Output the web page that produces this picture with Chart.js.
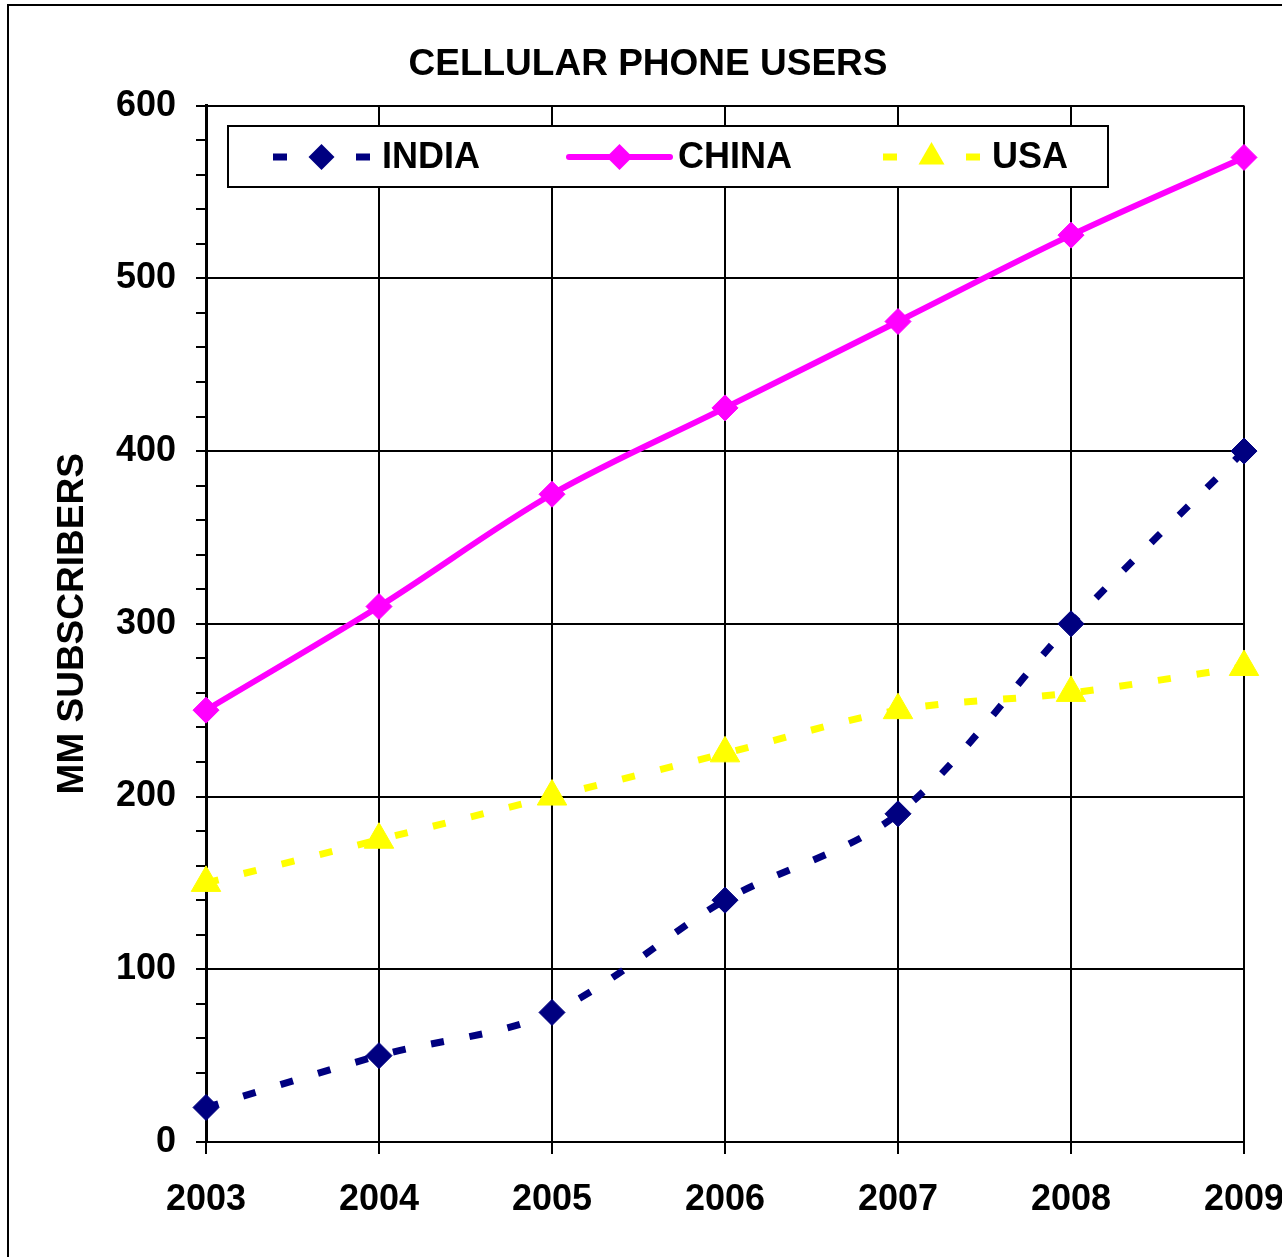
<!DOCTYPE html>
<html>
<head>
<meta charset="utf-8">
<script src="https://cdn.jsdelivr.net/npm/chart.js@4/dist/chart.umd.min.js"></script>
<style>
  html, body { margin: 0; padding: 0; background: #fff; }
  #wrap { width: 1282px; height: 1257px; position: relative; }
</style>
</head>
<body>
<div id="wrap"><canvas id="c" width="1282" height="1257"></canvas></div>
<script>
const years = ['2003', '2004', '2005', '2006', '2007', '2008', '2009'];
const india = [20, 50, 75, 140, 190, 300, 400];
const china = [250, 310, 375, 425, 475, 525, 570];
const usa = [150, 175, 200, 225, 250, 260, 275];
const seriesNames = ['INDIA', 'CHINA', 'USA'];
const chartTitle = 'CELLULAR PHONE USERS';
const yTitle = 'MM SUBSCRIBERS';

const FONT = '"Liberation Sans", Arial, Helvetica, sans-serif';

const framePlugin = {
  id: 'frame',
  beforeDraw(chart) {
    const ctx = chart.ctx;
    ctx.save();
    ctx.fillStyle = '#fff';
    ctx.fillRect(0, 0, chart.width, chart.height);
    ctx.strokeStyle = '#000';
    ctx.lineWidth = 2;
    ctx.strokeRect(8, 5, 3000, 3000);
    ctx.restore();
  }
};

function drawMarker(ctx, style, x, y, r, color) {
  ctx.fillStyle = color;
  ctx.beginPath();
  if (style === 'triangle') {
    ctx.moveTo(x, y - r);
    ctx.lineTo(x + r * Math.sin(Math.PI / 3), y + r / 2);
    ctx.lineTo(x - r * Math.sin(Math.PI / 3), y + r / 2);
  } else {
    ctx.moveTo(x, y - r);
    ctx.lineTo(x + r, y);
    ctx.lineTo(x, y + r);
    ctx.lineTo(x - r, y);
  }
  ctx.closePath();
  ctx.fill();
}

const legendPlugin = {
  id: 'boxLegend',
  afterDatasetsDraw(chart) {
    const ctx = chart.ctx;
    const box = { x: 228, y: 126, w: 880, h: 61 };
    const cy = 157;
    const slots = [
      { s: 273, e: 370, t: 382 },
      { s: 569, e: 670, t: 678 },
      { s: 883, e: 980, t: 992 }
    ];
    ctx.save();
    ctx.fillStyle = '#fff';
    ctx.fillRect(box.x, box.y, box.w, box.h);
    ctx.strokeStyle = '#000';
    ctx.lineWidth = 2;
    ctx.strokeRect(box.x, box.y, box.w, box.h);
    chart.data.datasets.forEach((ds, i) => {
      const sl = slots[i];
      const mid = (sl.s + sl.e) / 2;
      ctx.strokeStyle = ds.borderColor;
      ctx.lineWidth = ds.borderWidth;
      if (ds.borderDash && ds.borderDash.length) {
        ctx.lineCap = 'butt';
        ctx.beginPath();
        ctx.moveTo(sl.s, cy); ctx.lineTo(sl.s + 14, cy);
        ctx.moveTo(sl.e - 14, cy); ctx.lineTo(sl.e, cy);
        ctx.stroke();
      } else {
        ctx.lineCap = 'round';
        ctx.beginPath();
        ctx.moveTo(sl.s, cy); ctx.lineTo(sl.e, cy);
        ctx.stroke();
      }
      drawMarker(ctx, ds.pointStyle, mid, cy, ds.pointStyle === 'triangle' ? 15 : 13, ds.pointBackgroundColor);
      ctx.fillStyle = '#000';
      ctx.font = 'bold 36px ' + FONT;
      ctx.textAlign = 'left';
      ctx.textBaseline = 'middle';
      ctx.fillText(ds.label, sl.t, cy + 1);
    });
    ctx.restore();
  }
};

const ctx = document.getElementById('c').getContext('2d');
new Chart(ctx, {
  type: 'line',
  data: {
    labels: years,
    datasets: [
      {
        label: seriesNames[0], data: india,
        borderColor: '#000080', backgroundColor: '#000080',
        pointBackgroundColor: '#000080', pointBorderColor: '#000080',
        borderWidth: 7, borderDash: [13, 26], borderCapStyle: 'butt',
        pointStyle: 'rectRot', pointRadius: 13, pointBorderWidth: 1,
        tension: 0.33, clip: false, order: 3, fill: false
      },
      {
        label: seriesNames[1], data: china,
        borderColor: '#FF00FF', backgroundColor: '#FF00FF',
        pointBackgroundColor: '#FF00FF', pointBorderColor: '#FF00FF',
        borderWidth: 6,
        pointStyle: 'rectRot', pointRadius: 13, pointBorderWidth: 1,
        tension: 0.33, clip: false, order: 2, fill: false
      },
      {
        label: seriesNames[2], data: usa,
        borderColor: '#FFFF00', backgroundColor: '#FFFF00',
        pointBackgroundColor: '#FFFF00', pointBorderColor: '#FFFF00',
        borderWidth: 7, borderDash: [13, 26], borderCapStyle: 'butt',
        pointStyle: 'triangle', pointRadius: 17, pointBorderWidth: 1,
        tension: 0.33, clip: false, order: 1, fill: false
      }
    ]
  },
  options: {
    responsive: false,
    animation: false,
    events: [],
    layout: { padding: { left: 52, right: 38, top: 0, bottom: 0 } },
    plugins: {
      legend: { display: false },
      tooltip: { enabled: false },
      title: {
        display: true,
        text: chartTitle,
        color: '#000',
        font: { family: FONT, size: 37, weight: 'bold', lineHeight: 1.2 },
        padding: { top: 43, bottom: 18.2 }
      }
    },
    scales: {
      x: {
        type: 'category',
        offset: false,
        grid: { color: '#000', lineWidth: 2, tickLength: 12, drawTicks: true, offset: false },
        border: { color: '#000', width: 2 },
        ticks: {
          color: '#000', padding: 24, autoSkip: false, maxRotation: 0,
          font: { family: FONT, size: 36, weight: 'bold' }
        },
        afterFit(scale) {
          scale.height = 115;
          scale.paddingLeft = 0;
          scale.paddingRight = 0;
        }
      },
      y: {
        min: 0, max: 600,
        grid: {
          color: (c) => (c.tick && c.tick.value % 100 === 0) ? '#000' : 'rgba(0,0,0,0)',
          tickColor: '#000',
          lineWidth: 2, tickLength: 10
        },
        border: { color: '#000', width: 3 },
        ticks: {
          stepSize: 20, autoSkip: false, color: '#000', padding: 20,
          font: { family: FONT, size: 36, weight: 'bold' },
          callback: (v) => (v % 100 === 0 ? String(v) : '')
        },
        title: {
          display: true, text: yTitle, color: '#000',
          font: { family: FONT, size: 37, weight: 'bold', lineHeight: 1.1 },
          padding: { top: 0, bottom: 0 }
        },
        afterFit(scale) {
          scale.width = 154;
        }
      }
    }
  },
  plugins: [framePlugin, legendPlugin]
});
</script>
</body>
</html>
